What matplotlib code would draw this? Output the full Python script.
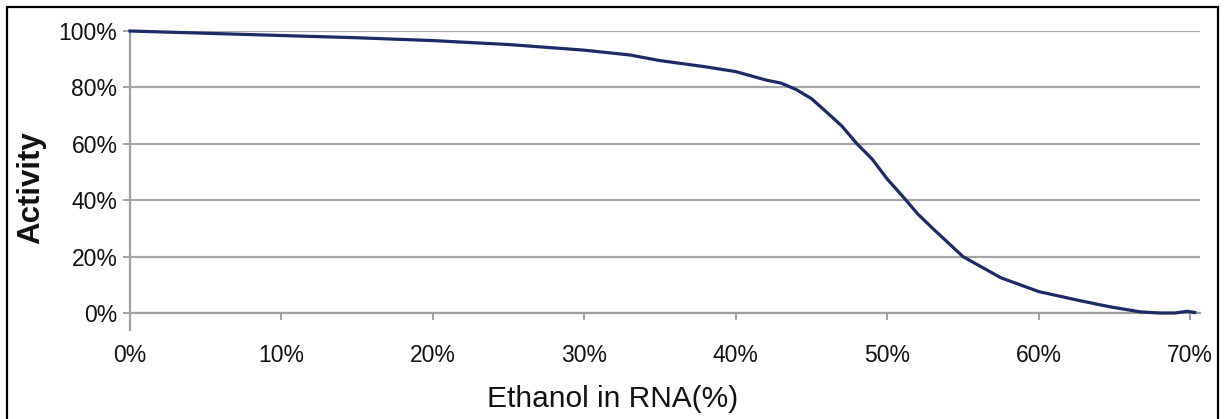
import matplotlib.pyplot as plt
from matplotlib.ticker import PercentFormatter
from matplotlib.patches import Rectangle

plt.rcParams['font.family'] = ['Liberation Sans', 'DejaVu Sans']

# values (percent)
ethanol = [0, 5, 10, 15, 20, 25, 30, 33, 35, 38, 40, 42, 43, 44, 45, 46, 47, 48,
           49, 50, 51, 52, 53, 54, 55, 56, 57.5, 60, 62.7, 64.7, 66.7, 68, 69, 69.8, 70.3]
activity = [100, 99.2, 98.4, 97.6, 96.6, 95.2, 93.2, 91.5, 89.5, 87.3, 85.6, 82.6, 81.5,
            79.2, 76, 71.2, 66.3, 60, 54.6, 47.5, 41.5, 35.2, 30, 25, 20, 17, 12.5, 7.6,
            4.4, 2.2, 0.4, 0, 0, 0.6, 0.2]
x_ticks = [0, 10, 20, 30, 40, 50, 60, 70]
y_ticks = [0, 20, 40, 60, 80, 100]

fig = plt.figure(figsize=(12.24, 4.19), dpi=100)
ax = fig.add_axes([130/1224, 1 - 313/419, 1070/1224, 282/419])

ax.plot(ethanol, activity, color='#1c2a66', lw=2.3, clip_on=False, zorder=3,
        solid_joinstyle='round')

ax.set_xlim(0, 70.65)
ax.set_ylim(0, 100)
ax.set_xticks(x_ticks)
ax.set_yticks(y_ticks)
ax.xaxis.set_major_formatter(PercentFormatter(decimals=0))
ax.yaxis.set_major_formatter(PercentFormatter(decimals=0))

ax.grid(axis='y', color='#a6a6a6', lw=1.6)
ax.set_axisbelow(True)
for s in ['top', 'right']:
    ax.spines[s].set_visible(False)
for s in ['left', 'bottom']:
    ax.spines[s].set_color('#a0a0a0')
    ax.spines[s].set_linewidth(1.6)
ax.tick_params(axis='both', colors='#a0a0a0', width=1.4, length=5, labelcolor='#111111',
               labelsize=16.5)
ax.tick_params(axis='x', pad=17)
ax.tick_params(axis='y', pad=4)
# y axis line runs a little below the x axis
ax.plot([0, 0], [0, -0.06], transform=ax.transAxes, color='#a0a0a0', lw=1.6, clip_on=False)

ax.set_xlabel('Ethanol in RNA(%)', fontsize=21.5, color='#111111')
ax.xaxis.set_label_coords(0.451, -0.255)
ax.set_ylabel('Activity', fontsize=22.5, fontweight='bold', color='#111111')
ax.yaxis.set_label_coords(-0.078, 0.443)

fig.patches.append(Rectangle((7/1224, -0.02), 1211/1224, 1.02 - 7.5/419,
                             transform=fig.transFigure, fill=False, ec='black', lw=1.6))

fig.savefig('out.png', dpi=100)
